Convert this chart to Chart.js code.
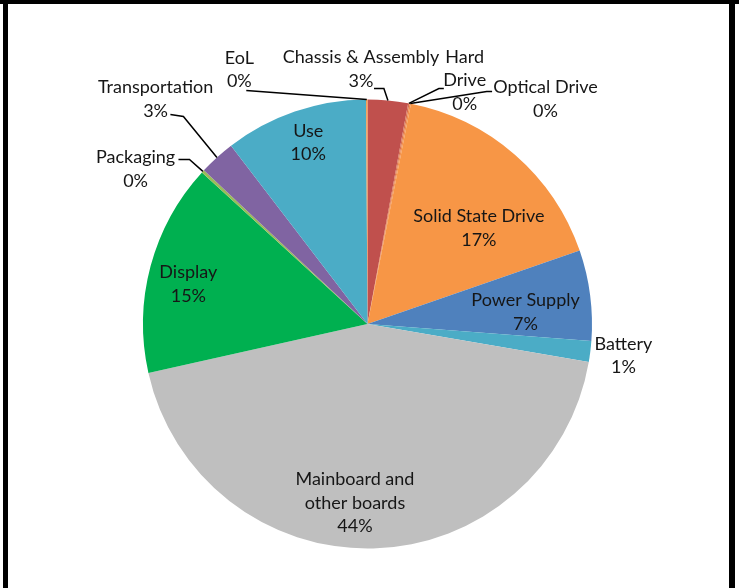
<!DOCTYPE html>
<html>
<head>
<meta charset="utf-8">
<script src="https://cdn.jsdelivr.net/npm/chart.js@4.4.0/dist/chart.umd.min.js"></script>
<style>
  html, body { margin: 0; padding: 0; background: #fff; }
  #wrap { width: 739px; height: 588px; }
</style>
</head>
<body>
<div id="wrap"><canvas id="myChart" width="739" height="588"></canvas></div>
<script>
// slices clockwise from 12 o'clock
var categories = ["Chassis & Assembly", "Hard Drive", "Optical Drive", "Solid State Drive",
    "Power Supply", "Battery", "Mainboard and other boards", "Display",
    "Packaging", "Transportation", "Use", "EoL"];
var shares = [2.9, 0.1, 0.1, 16.6, 6.5, 1.5, 43.8, 15.3, 0.2, 2.6, 10.3, 0.1];
var shareLabels = ["3%", "0%", "0%", "17%", "7%", "1%", "44%", "15%", "0%", "3%", "10%", "0%"];
// how each category name is broken into lines on the picture
var nameLines = [["Chassis & Assembly"], ["Hard", "Drive"], ["Optical Drive"], ["Solid State Drive"],
    ["Power Supply"], ["Battery"], ["Mainboard and", "other boards"], ["Display"],
    ["Packaging"], ["Transportation"], ["Use"], ["EoL"]];

var sliceColors = ["#C0504D", "#D86F4F", "#F08E4C", "#F79646", "#4F81BD", "#4BACC6",
    "#BFBFBF", "#00B050", "#9BBB59", "#8064A2", "#4BACC6", "#F79646"];

// label placement, in units of the pie radius, relative to the pie centre
// pos = text centre, lead = leader start and elbow (null = no leader)
var labelLayout = [
    { pos: [-0.029, -1.136], lead: [[0.029, -1.049], [0.073, -1.049]] },
    { pos: [0.433, -1.084], lead: [[0.34, -1.049], [0.318, -1.049]] },
    { pos: [0.793, -1.002], lead: [[0.555, -1.036], [0.531, -1.036]] },
    { pos: [0.496, -0.427], lead: null },
    { pos: [0.704, -0.053], lead: null },
    { pos: [1.14, 0.142], lead: null },
    { pos: [-0.056, 0.798], lead: null },
    { pos: [-0.798, -0.178], lead: null },
    { pos: [-1.033, -0.689], lead: [[-0.842, -0.733], [-0.793, -0.733]] },
    { pos: [-0.944, -1.002], lead: [[-0.878, -0.933], [-0.82, -0.924]] },
    { pos: [-0.264, -0.807], lead: null },
    { pos: [-0.571, -1.133], lead: [[-0.54, -1.04], null] }
];

var frame = {
    id: 'frame',
    beforeDraw: function (chart) {
        var c = chart.ctx;
        c.save();
        c.fillStyle = '#000';
        c.fillRect(0, 0, 739, 4);
        c.fillRect(3, 0, 5, 588);
        c.fillRect(729, 0, 6, 588);
        c.restore();
    }
};

var sliceLabels = {
    id: 'sliceLabels',
    afterDraw: function (chart) {
        var c = chart.ctx;
        var arcs = chart.getDatasetMeta(0).data;
        c.save();
        c.font = '18px Lato';
        c.fillStyle = '#161616';
        c.textAlign = 'center';
        c.textBaseline = 'middle';
        c.strokeStyle = '#000';
        c.lineWidth = 1.5;
        for (var i = 0; i < arcs.length; i++) {
            var a = arcs[i];
            var r = a.outerRadius;
            var lay = labelLayout[i];
            var lines = nameLines[i].concat([shareLabels[i]]);
            var lh = 23.5;
            var cx = a.x + lay.pos[0] * r;
            var cy = a.y + lay.pos[1] * r;
            var y0 = cy - (lines.length - 1) * lh / 2;
            for (var k = 0; k < lines.length; k++) {
                c.fillText(lines[k], cx, y0 + k * lh);
            }
            if (lay.lead) {
                var mid = (a.startAngle + a.endAngle) / 2;
                c.beginPath();
                c.moveTo(a.x + lay.lead[0][0] * r, a.y + lay.lead[0][1] * r);
                if (lay.lead[1]) c.lineTo(a.x + lay.lead[1][0] * r, a.y + lay.lead[1][1] * r);
                c.lineTo(a.x + Math.cos(mid) * r, a.y + Math.sin(mid) * r);
                c.stroke();
            }
        }
        c.restore();
    }
};

var ctx = document.getElementById("myChart").getContext('2d');
var chart = new Chart(ctx, {
    type: 'pie',
    data: {
        labels: categories,
        datasets: [{
            data: shares,
            backgroundColor: sliceColors,
            borderWidth: 0
        }]
    },
    options: {
        responsive: false,
        animation: false,
        layout: { padding: { top: 99, bottom: 39, left: 143, right: 147 } },
        plugins: {
            legend: { display: false },
            tooltip: { enabled: false }
        }
    },
    plugins: [frame, sliceLabels]
});
</script>
</body>
</html>
